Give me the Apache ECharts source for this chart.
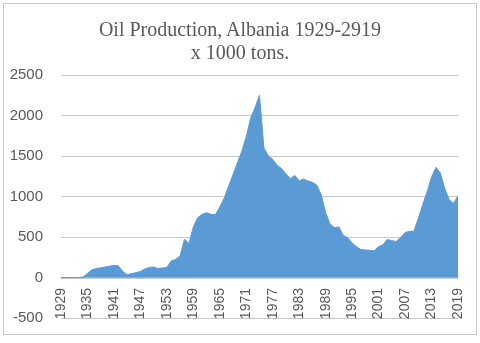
<!DOCTYPE html>
<html>
<head>
<meta charset="utf-8">
<script src="https://cdn.jsdelivr.net/npm/echarts@6/dist/echarts.min.js"></script>
<style>
  html, body { margin: 0; padding: 0; background: #fff; }
  .wrap { position: relative; width: 480px; height: 343px; }
  #oilChart { width: 480px; height: 343px; }
  .frame {
    position: absolute; left: 3px; top: 3px; width: 472px; height: 330px;
    border: 1px solid #c6c6c6; pointer-events: none;
  }
  .chartTitle {
    position: absolute; left: 0; top: 18px; width: 480px; text-align: center;
    font-family: 'Liberation Serif', serif; font-size: 20px; line-height: 23px;
    color: #595959; pointer-events: none;
  }
</style>
</head>
<body>
<div class="wrap">
  <div id="oilChart"></div>
  <div class="chartTitle">Oil Production, Albania 1929-2919<br>x 1000 tons.</div>
  <div class="frame"></div>
</div>
<script>
// years 1929..2019
var years = [];
for (var y = 1929; y <= 2019; y++) years.push(String(y));

// production, x 1000 tons
var production1929s = [0, 0, 0, 0, 0, 5, 50, 95, 110, 120, 130, 140, 150, 145, 75, 35, 48, 60, 75, 105, 125];
var production1950s = [130, 110, 118, 125, 205, 225, 265, 475, 420, 625, 740, 780, 800, 780, 775, 870, 980, 1130, 1270, 1420];
var production1970s = [1560, 1740, 1970, 2100, 2250, 1600, 1500, 1460, 1385, 1345, 1280, 1220, 1260, 1195, 1215, 1190, 1175, 1140, 1020, 800];
var production1990s = [660, 615, 625, 520, 490, 425, 380, 345, 340, 335, 330, 380, 405, 470, 455, 445, 495, 555, 570, 571];
var production2010s = [730, 900, 1060, 1240, 1360, 1290, 1100, 960, 915, 1010];

var production = [].concat(production1929s, production1950s, production1970s, production1990s, production2010s);

var yTicks = { min: -500, max: 2500, step: 500 };

var myChart = echarts.init(document.getElementById('oilChart'));
var option = {
  animation: false,
  grid: {
    left: 61,
    right: 22,
    top: 75,
    bottom: 25,
    outerBoundsMode: 'none',
  },
  xAxis: {
    type: 'category',
    data: years,
    boundaryGap: false,
    offset: -40,
    axisLine: { show: true, onZero: false, lineStyle: { color: '#c8c8c8', width: 1 } },
    axisTick: { show: false },
    axisLabel: {
      interval: 5,
      rotate: 90,
      margin: 10,
      fontSize: 14,
      color: '#595959',
    },
    splitLine: { show: false },
  },
  yAxis: {
    type: 'value',
    min: yTicks.min,
    max: yTicks.max,
    interval: yTicks.step,
    axisLine: { show: false },
    axisTick: { show: false },
    axisLabel: {
      margin: 18,
      fontSize: 15,
      color: '#595959',
      formatter: function (v) { return String(v); },
    },
    splitLine: { show: true, lineStyle: { color: '#c8c8c8', width: 1 } },
  },
  series: [
    {
      name: 'Oil production',
      type: 'line',
      data: production,
      symbol: 'none',
      lineStyle: { width: 1, color: '#5b9bd5' },
      areaStyle: { color: '#5b9bd5', opacity: 1 },
    },
  ],
};

option && myChart.setOption(option);
</script>
</body>
</html>
